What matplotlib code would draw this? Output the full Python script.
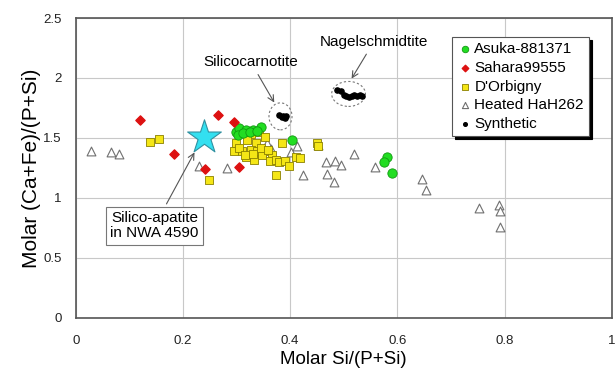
import matplotlib.pyplot as plt
from matplotlib.patches import Ellipse
from matplotlib.ticker import FormatStrFormatter

plt.rcParams['font.family'] = ['Liberation Sans', 'DejaVu Sans']

# Asuka-881371
asuka_x = [0.299, 0.305, 0.317, 0.330, 0.345, 0.302, 0.312, 0.325, 0.338, 0.404, 0.580, 0.576, 0.590]
asuka_y = [1.55, 1.58, 1.57, 1.57, 1.59, 1.525, 1.54, 1.55, 1.56, 1.48, 1.34, 1.30, 1.21]

# Sahara99555
sahara_x = [0.119, 0.266, 0.296, 0.184, 0.242, 0.305]
sahara_y = [1.65, 1.69, 1.63, 1.37, 1.24, 1.26]

# D'Orbigny
dorb_x = [0.139, 0.155, 0.249, 0.308, 0.327, 0.342, 0.354, 0.299, 0.320, 0.336,
          0.296, 0.311, 0.327, 0.339, 0.351, 0.317, 0.333, 0.348, 0.384, 0.367,
          0.362, 0.373, 0.379, 0.390, 0.398, 0.373, 0.411, 0.419, 0.450, 0.305,
          0.315, 0.345, 0.330, 0.358, 0.452]
dorb_y = [1.47, 1.49, 1.15, 1.54, 1.53, 1.55, 1.51, 1.46, 1.48, 1.46,
          1.39, 1.39, 1.40, 1.39, 1.39, 1.34, 1.32, 1.36, 1.46, 1.36,
          1.31, 1.32, 1.30, 1.31, 1.27, 1.19, 1.34, 1.33, 1.46, 1.42,
          1.36, 1.42, 1.37, 1.40, 1.43]

# Heated HaH262
heated_x = [0.029, 0.066, 0.081, 0.230, 0.283, 0.357, 0.364, 0.401, 0.413, 0.452,
            0.424, 0.466, 0.483, 0.494, 0.519, 0.469, 0.481, 0.558, 0.646, 0.654,
            0.753, 0.790, 0.792, 0.791]
heated_y = [1.39, 1.38, 1.37, 1.27, 1.25, 1.455, 1.41, 1.38, 1.43, 1.44,
            1.19, 1.30, 1.31, 1.275, 1.37, 1.20, 1.13, 1.255, 1.155, 1.067,
            0.92, 0.94, 0.895, 0.755]

# Synthetic
synth_x = [0.380, 0.385, 0.390, 0.392, 0.387,
           0.488, 0.495, 0.500, 0.505, 0.510, 0.515, 0.520, 0.525, 0.530, 0.535]
synth_y = [1.69, 1.675, 1.67, 1.68, 1.685,
           1.90, 1.89, 1.86, 1.85, 1.84, 1.85, 1.86, 1.85, 1.86, 1.85]

# Silico-apatite in NWA 4590
star_x = [0.240]
star_y = [1.51]

fig = plt.figure(figsize=(6.16, 3.83), dpi=100)
ax = fig.add_axes([0.123, 0.170, 0.870, 0.783])

ax.scatter(heated_x, heated_y, marker='^', s=40, facecolor='white', edgecolor='#707070',
           linewidth=0.8, label='Heated HaH262', zorder=3)
ax.scatter(dorb_x, dorb_y, marker='s', s=34, facecolor='#f5e616', edgecolor='#8a8000',
           linewidth=0.6, label="D'Orbigny", zorder=4)
ax.scatter(asuka_x, asuka_y, marker='o', s=45, facecolor='#22dd22', edgecolor='#119911',
           linewidth=0.6, label='Asuka-881371', zorder=5)
ax.scatter(sahara_x, sahara_y, marker='D', s=22, facecolor='#dd1111', edgecolor='#dd1111',
           label='Sahara99555', zorder=5)
ax.scatter(synth_x, synth_y, marker='o', s=14, color='black', label='Synthetic', zorder=5)
ax.scatter(star_x, star_y, marker='*', s=650, facecolor='#33e0f0', edgecolor='#3090a0',
           linewidth=0.8, zorder=6)

# dashed ellipses around synthetic clusters
ax.add_patch(Ellipse((0.382, 1.68), 0.043, 0.225, fill=False, linestyle=(0, (2, 2)),
                     edgecolor='#777777', linewidth=0.8, zorder=4))
ax.add_patch(Ellipse((0.509, 1.867), 0.063, 0.208, fill=False, linestyle=(0, (2, 2)),
                     edgecolor='#777777', linewidth=0.8, zorder=4))

arrow = dict(arrowstyle='->', color='#555555', linewidth=0.8)
ax.annotate('Nagelschmidtite', xy=(0.512, 1.975), xytext=(0.556, 2.30),
            ha='center', va='center', fontsize=11, arrowprops=arrow)
ax.annotate('Silicocarnotite', xy=(0.373, 1.775), xytext=(0.327, 2.13),
            ha='center', va='center', fontsize=11, arrowprops=arrow)
ax.annotate('Silico-apatite\nin NWA 4590', xy=(0.224, 1.40), xytext=(0.147, 0.767),
            ha='center', va='center', fontsize=11, linespacing=1.1,
            bbox=dict(boxstyle='square,pad=0.3', facecolor='white', edgecolor='#777777',
                      linewidth=0.8),
            arrowprops=arrow)

ax.set_xlim(0, 1)
ax.set_ylim(0, 2.5)
ax.set_xticks([0, 0.2, 0.4, 0.6, 0.8, 1])
ax.set_yticks([0, 0.5, 1, 1.5, 2, 2.5])
ax.xaxis.set_major_formatter(FormatStrFormatter('%g'))
ax.yaxis.set_major_formatter(FormatStrFormatter('%g'))
ax.tick_params(length=0, labelsize=9.5, colors='#222222')
ax.tick_params(axis='x', pad=12)
ax.tick_params(axis='y', pad=10)
ax.grid(True, color='#c8c8c8', linewidth=0.8)
ax.set_axisbelow(True)
for sp in ax.spines.values():
    sp.set_color('#555555')
    sp.set_linewidth(1.2)

ax.set_xlabel('Molar Si/(P+Si)', fontsize=13.5, labelpad=3)
ax.set_ylabel('Molar (Ca+Fe)/(P+Si)', fontsize=15, labelpad=2)

handles, labels = ax.get_legend_handles_labels()
order = ['Asuka-881371', 'Sahara99555', "D'Orbigny", 'Heated HaH262', 'Synthetic']
hmap = dict(zip(labels, handles))
leg = ax.legend([hmap[k] for k in order], order, loc='upper left',
                bbox_to_anchor=(0.688, 0.962), fontsize=11, frameon=True, fancybox=False,
                handletextpad=0.1, handlelength=1.0, borderpad=0.35, labelspacing=0.3,
                markerscale=0.7, shadow={'color': 'black', 'alpha': 1, 'shade': 0})
leg.get_frame().set_edgecolor('#555555')
leg.get_frame().set_linewidth(0.8)
leg.set_zorder(10)

fig.savefig('out.png', dpi=100)
